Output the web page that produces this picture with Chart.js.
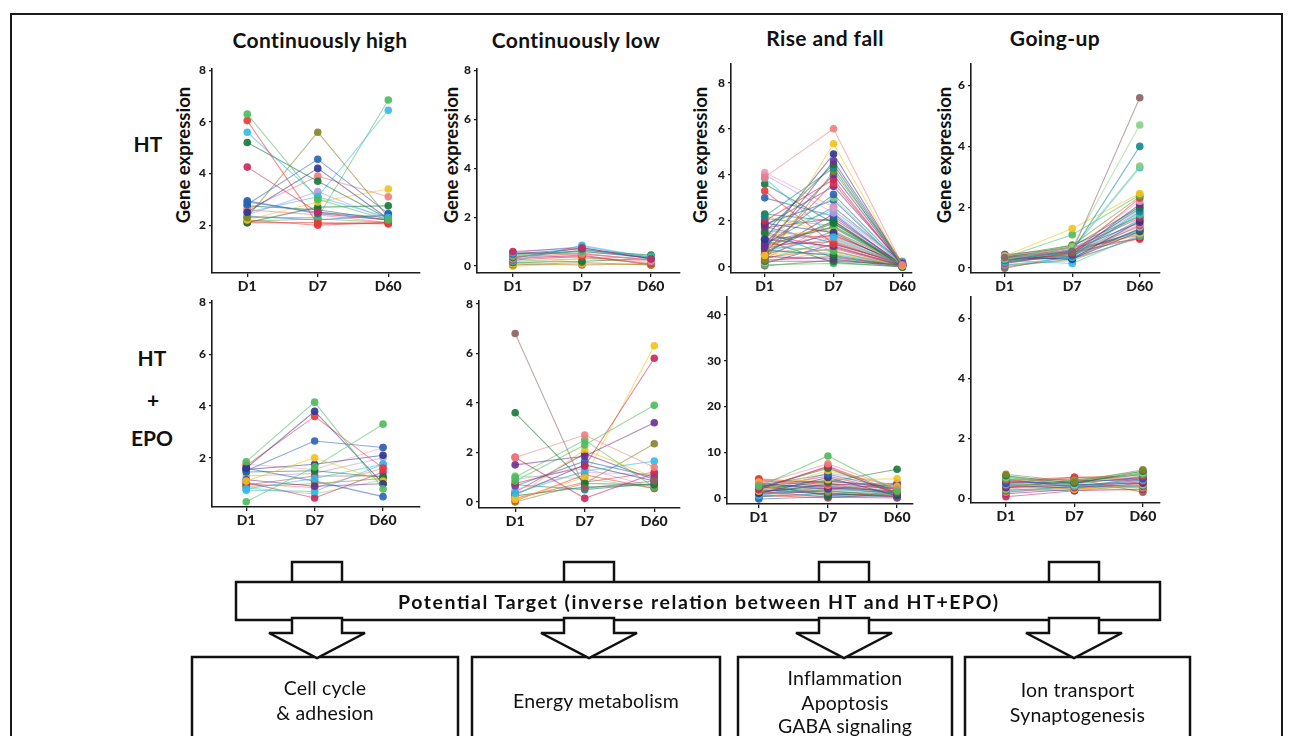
<!DOCTYPE html>
<html>
<head>
<meta charset="utf-8">
<script src="https://cdn.jsdelivr.net/npm/chart.js@4.4.1/dist/chart.umd.min.js"></script>
<style>
  body { margin:0; width:1298px; height:736px; background:#fff; overflow:hidden; position:relative; font-family:'Lato', 'Open Sans', sans-serif; color:#111; }
  canvas { position:absolute; }
  .frame { position:absolute; left:10px; top:13px; width:1273px; height:760px; border:2.5px solid #1a1a1a; box-sizing:border-box; }
  .lbl { position:absolute; white-space:nowrap; transform:translate(-50%,-50%); font-weight:700; }
  .ttl { font-size:21px; letter-spacing:0.4px; }
  .ytitle { position:absolute; white-space:nowrap; font-weight:700; font-size:18.5px; transform:translate(-50%,-50%) rotate(-90deg); }
  svg { position:absolute; left:0; top:0; }
</style>
</head>
<body>
<div class="frame"></div>

<div class="lbl ttl" style="left:320px;top:39px;">Continuously high</div>
<div class="lbl ttl" style="left:576px;top:39px;">Continuously low</div>
<div class="lbl ttl" style="left:825px;top:37px;">Rise and fall</div>
<div class="lbl ttl" style="left:1055px;top:37px;">Going-up</div>

<div class="lbl" style="left:148px;top:143px;font-size:21px;">HT</div>
<div class="lbl" style="left:152px;top:357px;font-size:21px;">HT</div>
<div class="lbl" style="left:153px;top:399px;font-size:21px;">+</div>
<div class="lbl" style="left:152px;top:437px;font-size:21px;">EPO</div>

<div class="ytitle" style="left:183px;top:155px;">Gene expression</div>
<div class="ytitle" style="left:451px;top:155px;">Gene expression</div>
<div class="ytitle" style="left:700px;top:155px;">Gene expression</div>
<div class="ytitle" style="left:944px;top:155px;">Gene expression</div>

<canvas id="p1"></canvas><canvas id="p2"></canvas><canvas id="p3"></canvas><canvas id="p4"></canvas>
<canvas id="p5"></canvas><canvas id="p6"></canvas><canvas id="p7"></canvas><canvas id="p8"></canvas>

<svg width="1298" height="736" id="diagram"></svg>

<script>
// ---- data ----
const days = ['D1', 'D7', 'D60'];

// HT, continuously high
const htHigh = [
  [6.3,3.0,2.2],[6.05,2.05,2.1],[5.6,3.1,2.3],[5.2,3.7,2.25],[4.25,2.5,2.2],[2.95,2.45,2.2],
  [2.8,4.55,2.45],[2.5,4.2,2.25],[2.3,5.6,2.3],[2.6,3.9,3.1],[2.3,2.3,6.85],[2.5,3.1,6.45],
  [2.2,2.9,3.4],[2.1,2.7,2.75],[2.1,2.1,2.05],[2.4,3.3,2.2],[2.9,2.5,2.3],[2.2,2.0,2.1],
  [2.15,2.25,2.1],[2.75,2.6,2.2],[2.35,2.2,2.4],[2.6,2.4,2.1]
];
const htHighColors = 'grcGmbbnosgcyGrlbrgGbs';
const htHighTicks = [2, 4, 6, 8];

// HT, continuously low
const htLow = [
  [0.6,0.75,0.3],[0.55,0.8,0.35],[0.5,0.7,0.3],[0.45,0.6,0.4],[0.4,0.5,0.25],[0.35,0.65,0.45],
  [0.3,0.55,0.2],[0.25,0.4,0.1],[0.2,0.85,0.35],[0.15,0.2,0.3],[0.1,0.3,0.15],[0.05,0.15,0.05],
  [0.0,0.1,0.05],[0.3,0.45,0.05],[0.45,0.35,0.2],[0.1,0.05,0.1],[0.5,0.6,0.35],[0.2,0.3,0.4],
  [0.35,0.75,0.3],[0.55,0.5,0.25]
];
const htLowColors = 'mcbgsGlrcGyoymkwngpr';
const htLowTicks = [0, 2, 4, 6, 8];

// HT, rise and fall
const htRise = [
  [3.9,6.0,0.1],[0.5,5.35,0.05],[1.2,4.9,0.1],[0.8,4.6,0.15],[1.5,4.45,0.1],[2.2,4.3,0.05],
  [0.3,4.15,0.2],[1.0,4.0,0.1],[2.0,3.8,0.05],[0.6,3.65,0.1],[1.8,3.5,0.15],[0.9,3.15,0.1],
  [1.3,3.0,0.05],[4.1,2.6,0.1],[4.0,2.35,0.2],[3.85,1.3,0.1],[3.6,1.9,0.05],[3.3,1.0,0.15],
  [3.0,2.2,0.1],[2.3,2.0,0.0],[2.1,1.8,0.1],[1.9,1.5,0.05],[1.7,2.1,0.15],[1.6,1.2,0.1],
  [1.45,2.45,0.25],[1.35,1.6,0.1],[1.2,0.9,0.05],[1.1,1.7,0.1],[1.0,2.6,0.2],[0.95,1.1,0.05],
  [0.9,0.7,0.0],[0.85,1.9,0.1],[0.8,1.4,0.15],[0.75,0.5,0.05],[0.7,1.25,0.1],[0.65,2.0,0.1],
  [0.6,0.95,0.05],[0.55,0.6,0.1],[0.5,1.55,0.15],[0.45,0.35,0.0],[0.4,0.8,0.05],[0.35,1.15,0.1],
  [0.3,0.45,0.05],[0.25,0.25,0.1],[0.2,0.7,0.0],[0.1,0.15,0.05],[0.05,0.3,0.1],[1.55,0.4,0.05],
  [2.0,0.65,0.1],[1.25,1.35,0.2],[0.95,1.75,0.15],[1.75,1.05,0.1],[0.55,2.3,0.05],[1.4,0.85,0.1],
  [0.7,0.55,0.1],[2.2,1.45,0.05],[1.15,0.2,0.0],[0.35,1.95,0.1],[1.85,2.9,0.05],[0.15,1.0,0.15]
];
const htRiseColors = 'synpGtopmrpbeklcGrbGgnmscypbtrgomGcnsybprgmGkgwtlrGbpmcyGsbn';
const htRiseTicks = [0, 2, 4, 6, 8];

// HT, going-up
const htUp = [
  [0.35,0.55,5.6],[0.3,0.7,4.7],[0.25,0.55,4.0],[0.4,0.65,3.35],[0.2,0.6,3.3],[0.4,1.3,2.45],
  [0.35,1.1,2.4],[0.3,0.75,2.35],[0.15,0.5,2.3],[0.3,0.6,2.2],[0.25,0.45,2.1],[0.35,0.7,2.0],
  [0.4,0.55,1.95],[0.2,0.4,1.85],[0.1,0.35,1.8],[0.3,0.5,1.75],[0.45,0.65,1.65],[0.35,0.3,1.55],
  [0.25,0.6,1.5],[0.15,0.45,1.45],[0.0,0.4,1.4],[0.3,0.55,1.35],[0.4,0.35,1.3],[0.2,0.5,1.25],
  [0.35,0.3,1.2],[0.3,0.45,1.15],[0.25,0.15,1.1],[0.4,0.6,1.1],[0.1,0.25,1.05],[0.35,0.5,1.0],
  [0.2,0.7,0.95],[0.3,0.4,1.6],[0.45,0.45,1.9],[0.05,0.3,1.3],[0.25,0.35,2.05],[0.4,0.75,1.7],
  [0.3,0.3,1.0],[0.15,0.55,1.2]
];
const htUpColors = 'wetecygorkpGbtcgmnpswkbGnycrgmrtloeGrb';
const htUpTicks = [0, 2, 4, 6];

// HT+EPO, continuously high
const epoHigh = [
  [1.85,4.15,0.8],[0.3,1.65,3.3],[1.6,3.8,1.0],[1.7,3.6,1.6],[1.5,2.65,2.4],[1.1,2.0,1.1],
  [1.55,1.75,2.1],[1.45,1.5,1.25],[0.8,1.2,1.75],[1.15,0.9,1.0],[0.75,0.7,1.75],[1.05,0.45,1.45],
  [0.95,1.3,1.3],[0.9,1.0,1.2],[1.6,1.1,0.5],[1.3,1.4,2.0],[1.0,0.85,1.6],[1.75,1.55,2.4],
  [0.85,0.6,1.15]
];
const epoHighColors = 'ggnrbynGcpcmwoblske';
const epoHighTicks = [2, 4, 6, 8];

// HT+EPO, continuously low
const epoLow = [
  [6.8,0.55,0.85],[3.6,0.75,0.7],[1.8,2.7,1.4],[1.8,0.15,1.15],[1.5,1.85,3.2],[1.0,2.5,0.6],
  [0.85,2.3,3.9],[0.75,1.45,5.8],[0.65,1.65,1.0],[0.35,1.25,1.65],[0.2,2.1,1.0],[0.1,1.0,6.3],
  [0.05,1.1,0.55],[0.0,0.75,2.35],[0.3,1.5,0.85],[0.5,1.2,1.1],[0.7,0.5,0.75],[0.15,0.8,1.2],
  [0.9,1.35,0.6],[0.4,1.95,0.9],[1.05,0.95,0.55],[0.25,0.6,0.7]
];
const epoLowColors = 'wGsmpggmbcyyronktrlpeG';
const epoLowTicks = [0, 2, 4, 6, 8];

// HT+EPO, rise and fall
const epoRise = [
  [2.5,9.2,1.5],[3.0,7.5,2.0],[1.8,7.0,1.2],[2.2,6.5,1.0],[1.5,6.0,2.5],[2.8,5.2,1.8],
  [1.0,4.5,0.5],[3.5,4.0,4.2],[2.0,3.5,6.3],[4.2,3.2,2.0],[3.8,2.8,1.5],[3.2,2.0,3.0],
  [2.6,3.8,2.2],[1.2,3.0,1.0],[0.5,2.5,0.8],[2.9,1.5,0.5],[1.6,2.2,1.6],[0.8,1.8,2.5],
  [2.4,1.2,0.3],[3.0,0.5,1.2],[1.9,0.8,0.6],[0.3,1.0,0.2],[-0.2,0.3,0.5],[0.6,0.0,1.0],
  [1.4,0.2,0.0],[2.7,2.6,1.3],[3.3,1.7,0.9],[1.1,4.0,1.9],[0.9,5.5,2.8],[2.3,4.8,1.4],
  [1.7,1.4,2.2],[0.4,0.6,0.4],[3.6,3.6,2.6],[2.1,6.8,0.7],[1.3,2.9,3.2],[0.7,3.3,0.9],
  [2.5,0.9,1.7],[1.0,1.6,0.3],[0.2,2.0,1.1],[4.0,2.4,0.8]
];
const epoRiseColors = 'gsmGybnyGrspbtcgmorGnbbrmpeklrcywrpgGnsm';
const epoRiseTicks = [0, 10, 20, 30, 40];

// HT+EPO, going-up
const epoUp = [
  [0.8,0.55,0.95],[0.75,0.5,0.9],[0.7,0.45,0.85],[0.65,0.6,0.8],[0.6,0.7,0.75],[0.55,0.5,0.7],
  [0.5,0.55,0.65],[0.45,0.4,0.6],[0.4,0.35,0.55],[0.35,0.45,0.5],[0.3,0.3,0.45],[0.25,0.4,0.4],
  [0.2,0.35,0.35],[0.05,0.25,0.3],[0.55,0.65,0.2],[0.5,0.35,0.25],[0.45,0.5,0.85],[0.4,0.6,0.9],
  [0.6,0.4,0.6],[0.35,0.5,0.7],[0.3,0.45,0.55],[0.7,0.45,0.4],[0.65,0.35,0.45],[0.5,0.7,0.65],
  [0.45,0.3,0.75],[0.15,0.3,0.5],[0.75,0.4,0.35],[0.4,0.55,0.8],[0.55,0.3,0.3],[0.35,0.6,0.6],
  [0.3,0.25,0.45],[0.6,0.5,0.5],[0.2,0.4,0.65],[0.5,0.65,0.7]
];
const epoUpColors = 'oGegrbpcmnytsmwyGgbklorrgpcGemtybsg';
const epoUpTicks = [0, 2, 4, 6];

// ---- style ----
const palette = {
  g:'#4cbb5a', G:'#17773b', r:'#e8383d', m:'#c8285a', c:'#35b8ea', b:'#2a63b8', n:'#2c3590',
  p:'#6b2d8f', o:'#84842a', y:'#f2c21b', s:'#ef7d7d', k:'#e99ac6', l:'#b39ddb', t:'#128a8a',
  w:'#8d5f5f', e:'#86cf86'
};

function rgba(hex, a) {
  const v = parseInt((hex || '#888888').slice(1), 16);
  return `rgba(${v >> 16},${(v >> 8) & 255},${v & 255},${a})`;
}

// plot area boxes in page pixels + axis ranges
const panels = [
  { id:'p1', data:htHigh,  colors:htHighColors,  ticks:htHighTicks,  l:212, t:67,  r:420,  b:273, xMin:-0.5,  xMax:2.45, yMin:0.15, yMax:8.04 },
  { id:'p2', data:htLow,   colors:htLowColors,   ticks:htLowTicks,   l:477, t:67,  r:680,  b:273, xMin:-0.52, xMax:2.42, yMin:-0.28, yMax:8.05 },
  { id:'p3', data:htRise,  colors:htRiseColors,  ticks:htRiseTicks,  l:731, t:62,  r:913,  b:273, xMin:-0.49, xMax:2.14, yMin:-0.26, yMax:8.8 },
  { id:'p4', data:htUp,    colors:htUpColors,    ticks:htUpTicks,    l:971, t:62,  r:1160, b:273, xMin:-0.5,  xMax:2.3,  yMin:-0.16, yMax:6.7 },
  { id:'p5', data:epoHigh, colors:epoHighColors, ticks:epoHighTicks, l:212, t:299, r:420,  b:507, xMin:-0.5,  xMax:2.54, yMin:0.1,  yMax:8.05 },
  { id:'p6', data:epoLow,  colors:epoLowColors,  ticks:epoLowTicks,  l:479, t:299, r:680,  b:508, xMin:-0.52, xMax:2.37, yMin:-0.24, yMax:8.1 },
  { id:'p7', data:epoRise, colors:epoRiseColors, ticks:epoRiseTicks, l:727, t:295, r:913,  b:504, xMin:-0.46, xMax:2.23, yMin:-1.3, yMax:43.9 },
  { id:'p8', data:epoUp,   colors:epoUpColors,   ticks:epoUpTicks,   l:971, t:295, r:1160, b:503, xMin:-0.51, xMax:2.25, yMin:-0.16, yMax:6.7 }
];

const Y_W = 36, PAD_T = 8, PAD_R = 4, X_H = 26;
const ink = '#1c1c1c';

panels.forEach(p => {
  const cv = document.getElementById(p.id);
  const w = p.r - p.l + Y_W + PAD_R;
  const h = p.b - p.t + PAD_T + X_H;
  cv.width = w; cv.height = h;
  cv.style.left = (p.l - Y_W) + 'px';
  cv.style.top = (p.t - PAD_T) + 'px';

  const datasets = p.data.map((vals, i) => {
    const col = palette[p.colors[i % p.colors.length]];
    return {
      data: vals.map((v, k) => ({ x: k, y: v })),
      borderColor: rgba(col, 0.55),
      borderWidth: 1.1,
      pointBackgroundColor: rgba(col, 0.9),
      pointBorderWidth: 0,
      pointRadius: 3.8,
      tension: 0
    };
  });

  new Chart(cv, {
    type: 'line',
    data: { datasets },
    options: {
      responsive: false, animation: false, devicePixelRatio: 1,
      layout: { padding: { top: PAD_T, right: PAD_R, left: 0, bottom: 0 } },
      plugins: { legend: { display: false }, tooltip: { enabled: false } },
      scales: {
        x: {
          type: 'linear', min: p.xMin, max: p.xMax,
          afterBuildTicks: s => { s.ticks = days.map((d, k) => ({ value: k })); },
          afterFit: s => { s.height = X_H; },
          ticks: { callback: v => days[v], color: ink, padding: 1, maxRotation: 0,
                   font: { family: 'Lato', weight: '900', size: 14 } },
          grid: { drawOnChartArea: false, drawTicks: true, tickLength: 4, color: ink, lineWidth: 1.3 },
          border: { display: true, color: ink, width: 1.6 }
        },
        y: {
          min: p.yMin, max: p.yMax,
          afterBuildTicks: s => { s.ticks = p.ticks.map(v => ({ value: v })); },
          afterFit: s => { s.width = Y_W; },
          ticks: { color: ink, padding: 3, font: { family: 'Lato', weight: '900', size: 12 } },
          grid: { drawOnChartArea: false, drawTicks: true, tickLength: 3, color: ink, lineWidth: 1.3 },
          border: { display: true, color: ink, width: 1.6 }
        }
      }
    }
  });
});

// ---- diagram ----
const targets = ['Cell cycle\n& adhesion', 'Energy metabolism', 'Inflammation\nApoptosis\nGABA signaling', 'Ion transport\nSynaptogenesis'];
const arrowX = [317, 589, 844, 1074];
const targetBoxes = [[192, 458], [472, 720], [738, 952], [965, 1190]];
const targetTextY = [[689, 714], [702], [679, 704, 727], [691, 716]];

const NS = 'http://www.w3.org/2000/svg';
const svg = document.getElementById('diagram');
function el(tag, attrs, text) {
  const e = document.createElementNS(NS, tag);
  for (const k in attrs) e.setAttribute(k, attrs[k]);
  if (text) e.textContent = text;
  svg.appendChild(e);
  return e;
}
const stroke = { fill: '#fff', stroke: '#111', 'stroke-width': 2.5 };

arrowX.forEach(cx => el('rect', Object.assign({ x: cx - 25, y: 562, width: 50, height: 22 }, stroke)));
el('rect', Object.assign({ x: 236, y: 582, width: 924, height: 38 }, stroke));
el('text', { x: 698, y: 609, 'text-anchor': 'middle', 'font-family': 'Lato', 'font-weight': 700, 'font-size': 19.5,
             textLength: 600, lengthAdjust: 'spacing', fill: '#111' },
   'Potential Target (inverse relation between HT and HT+EPO)');

targetBoxes.forEach(([a, b]) => el('rect', Object.assign({ x: a, y: 657, width: b - a, height: 110 }, stroke)));
arrowX.forEach(cx => {
  const pts = [[cx-25,618],[cx-25,633],[cx-48,633],[cx,658],[cx+48,633],[cx+25,633],[cx+25,618]];
  el('polygon', Object.assign({ points: pts.map(q => q.join(',')).join(' ') }, stroke));
});
targets.forEach((t, i) => {
  const cx = (targetBoxes[i][0] + targetBoxes[i][1]) / 2;
  t.split('\n').forEach((line, j) => {
    el('text', { x: cx, y: targetTextY[i][j] + 6, 'text-anchor': 'middle', 'font-family': 'Lato', 'font-size': 19.5,
                 'letter-spacing': 0.2, fill: '#111' }, line);
  });
});
</script>
</body>
</html>
